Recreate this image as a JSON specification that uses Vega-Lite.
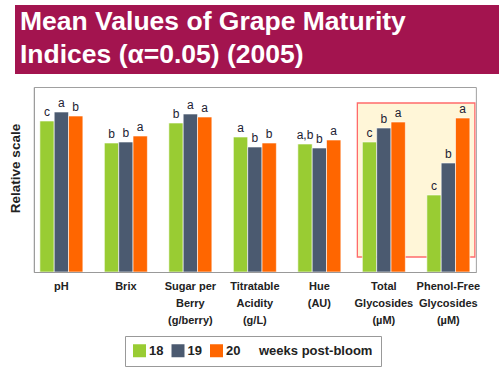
{
  "$schema": "https://vega.github.io/schema/vega-lite/v6.json",
  "padding": {"left": 8, "top": 5, "right": 4, "bottom": 4},
  "background": "white",
  "config": {
    "font": "Liberation Sans",
    "axisX": {"labelAngle": 0, "ticks": false, "domainColor": "#999999", "labelFontWeight": "bold", "labelFontSize": 11, "labelColor": "#222222", "labelLineHeight": 17, "labelPadding": 8, "labelBaseline": "top", "labelOverlap": false, "labelBound": false},
    "axisY": {"labels": false, "ticks": false, "grid": false, "domainColor": "#999999", "titleFontSize": 13.5, "titleFontWeight": "bold", "titleColor": "#222222", "titleX": -11, "titleY": 81, "titleAngle": -90, "titleBaseline": "bottom"}
  },
  "center": true,
  "spacing": 12,
  "datasets": {
    "grape": [
      {"index": "pH", "week": "18", "value": 151, "sig": "c"},
      {"index": "pH", "week": "19", "value": 160, "sig": "a"},
      {"index": "pH", "week": "20", "value": 156, "sig": "b"},
      {"index": "Brix", "week": "18", "value": 129, "sig": "b"},
      {"index": "Brix", "week": "19", "value": 130, "sig": "b"},
      {"index": "Brix", "week": "20", "value": 136, "sig": "a"},
      {"index": "Sugar per|Berry|(g/berry)", "week": "18", "value": 149, "sig": "b"},
      {"index": "Sugar per|Berry|(g/berry)", "week": "19", "value": 158, "sig": "a"},
      {"index": "Sugar per|Berry|(g/berry)", "week": "20", "value": 155, "sig": "a"},
      {"index": "Titratable|Acidity|(g/L)", "week": "18", "value": 135, "sig": "a"},
      {"index": "Titratable|Acidity|(g/L)", "week": "19", "value": 125, "sig": "b"},
      {"index": "Titratable|Acidity|(g/L)", "week": "20", "value": 129, "sig": "b"},
      {"index": "Hue|(AU)", "week": "18", "value": 128, "sig": "a,b"},
      {"index": "Hue|(AU)", "week": "19", "value": 124, "sig": "b"},
      {"index": "Hue|(AU)", "week": "20", "value": 132, "sig": "a"},
      {"index": "Total|Glycosides|(µM)", "week": "18", "value": 130, "sig": "c"},
      {"index": "Total|Glycosides|(µM)", "week": "19", "value": 144, "sig": "b"},
      {"index": "Total|Glycosides|(µM)", "week": "20", "value": 150, "sig": "a"},
      {"index": "Phenol-Free|Glycosides|(µM)", "week": "18", "value": 77, "sig": "c"},
      {"index": "Phenol-Free|Glycosides|(µM)", "week": "19", "value": 109, "sig": "b"},
      {"index": "Phenol-Free|Glycosides|(µM)", "week": "20", "value": 154, "sig": "a"}
    ],
    "box": [
      {"from": "Total|Glycosides|(µM)", "to": "Phenol-Free|Glycosides|(µM)", "lo": 15, "hi": 169}
    ]
  },
  "vconcat": [
    {
      "width": 484,
      "height": 69,
      "view": {"fill": "#A3144F", "stroke": null},
      "data": {"values": []},
      "mark": "rect",
      "encoding": {},
      "title": {
        "text": ["Mean Values of Grape Maturity", "Indices (α=0.05) (2005)"],
        "anchor": "start",
        "frame": "group",
        "color": "white",
        "font": "Liberation Sans",
        "fontSize": 26.5,
        "fontWeight": "bold",
        "lineHeight": 33,
        "baseline": "top",
        "offset": 0,
        "dx": 5,
        "dy": 63
      }
    },
    {
      "width": 442,
      "height": 185,
      "view": {"stroke": "#A0A0A0"},
      "layer": [
        {
          "data": {"name": "box"},
          "mark": {"type": "rect", "fill": "#FFF6D8", "stroke": "#FF6B6B", "strokeWidth": 1.3},
          "encoding": {
            "x": {"field": "from", "type": "nominal", "bandPosition": -0.116,
                  "scale": {"domain": ["pH", "Brix", "Sugar per|Berry|(g/berry)", "Titratable|Acidity|(g/L)", "Hue|(AU)", "Total|Glycosides|(µM)", "Phenol-Free|Glycosides|(µM)"], "paddingInner": 0.333, "paddingOuter": 0.093},
                  "axis": {"title": null, "labelExpr": "split(datum.label, '|')"}},
            "x2": {"field": "to", "bandPosition": 1.116},
            "y": {"field": "lo", "type": "quantitative", "scale": {"domain": [0, 185]},
                  "axis": {"title": "Relative scale"}},
            "y2": {"field": "hi"}
          }
        },
        {
          "data": {"name": "grape"},
          "mark": {"type": "bar", "stroke": "white", "strokeWidth": 0.6},
          "encoding": {
            "x": {"field": "index", "type": "nominal",
                  "scale": {"domain": ["pH", "Brix", "Sugar per|Berry|(g/berry)", "Titratable|Acidity|(g/L)", "Hue|(AU)", "Total|Glycosides|(µM)", "Phenol-Free|Glycosides|(µM)"], "paddingInner": 0.333, "paddingOuter": 0.093},
                  "axis": {"title": null, "labelExpr": "split(datum.label, '|')"}},
            "xOffset": {"field": "week", "type": "nominal"},
            "y": {"field": "value", "type": "quantitative", "scale": {"domain": [0, 185]},
                  "axis": {"title": "Relative scale"}},
            "color": {"field": "week", "type": "nominal",
                      "scale": {"domain": ["18", "19", "20"], "range": ["#99CC33", "#4B5A70", "#FF6600"]},
                      "legend": {"orient": "none", "legendX": 110, "legendY": 331, "direction": "horizontal", "title": "weeks post-bloom", "titleOrient": "right", "titleFontSize": 13, "titleFontWeight": "bold", "titleColor": "#222222", "titlePadding": 19, "labelFontSize": 13, "labelFontWeight": "bold", "labelColor": "#222222", "symbolType": "square", "symbolSize": 169, "symbolStrokeWidth": 0, "symbolOpacity": 1, "labelOffset": 3, "columnPadding": 7.5, "padding": 8, "strokeColor": "#999999", "fillColor": "white"}}
          }
        },
        {
          "data": {"name": "grape"},
          "mark": {"type": "text", "baseline": "bottom", "dy": -2, "fontSize": 12, "color": "#222233"},
          "encoding": {
            "x": {"field": "index", "type": "nominal",
                  "scale": {"domain": ["pH", "Brix", "Sugar per|Berry|(g/berry)", "Titratable|Acidity|(g/L)", "Hue|(AU)", "Total|Glycosides|(µM)", "Phenol-Free|Glycosides|(µM)"], "paddingInner": 0.333, "paddingOuter": 0.093},
                  "axis": {"title": null, "labelExpr": "split(datum.label, '|')"}},
            "xOffset": {"field": "week", "type": "nominal"},
            "y": {"field": "value", "type": "quantitative", "scale": {"domain": [0, 185]},
                  "axis": {"title": "Relative scale"}},
            "text": {"field": "sig"}
          }
        }
      ]
    }
  ]
}
